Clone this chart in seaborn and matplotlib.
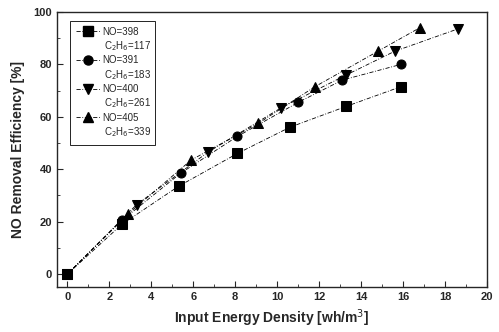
import pandas as pd
import numpy as np
import seaborn as sns
import matplotlib.pyplot as plt
from matplotlib.ticker import MultipleLocator
from matplotlib.lines import Line2D

# data
x_398 = [0, 2.6, 5.3, 8.1, 10.6, 13.3, 15.9]
y_398 = [0, 19, 33.5, 46, 56, 64, 71.5]
x_391 = [0, 2.6, 5.4, 8.1, 11.0, 13.1, 15.9]
y_391 = [0, 20.5, 38.5, 52.5, 65.5, 74, 80]
x_400 = [0, 3.3, 6.7, 10.2, 13.3, 15.6, 18.6]
y_400 = [0, 26.5, 46.5, 63.5, 76, 85, 93.5]
x_405 = [0, 2.9, 5.9, 9.1, 11.8, 14.8, 16.8]
y_405 = [0, 23, 43.5, 57.5, 71.5, 85, 94]

no_labels = ['NO=398', 'NO=391', 'NO=400', 'NO=405']
c2h6_labels = ['C$_2$H$_6$=117', 'C$_2$H$_6$=183', 'C$_2$H$_6$=261', 'C$_2$H$_6$=339']
markers = ['s', 'o', 'v', '^']

sns.set_style('ticks')
plt.rcParams['font.family'] = ['Liberation Sans', 'DejaVu Sans']

fig = plt.figure(figsize=(4.99, 3.32), dpi=100)
ax = fig.add_axes([0.114, 0.135, 0.862, 0.829])

series = [(x_398, y_398), (x_391, y_391), (x_400, y_400), (x_405, y_405)]
dash = (0, (5, 2, 1, 2))
for (xs, ys), m in zip(series, markers):
    sns.lineplot(x=xs, y=ys, ax=ax, marker=m, markersize=6.5,
                 color='black', markeredgecolor='black', linewidth=0.6,
                 linestyle=dash, sort=False)

# legend: marker line on the NO row, plain text row below for C2H6
handles, texts = [], []
blank = Line2D([], [], linestyle='none', marker=None)
for m, a, b in zip(markers, no_labels, c2h6_labels):
    handles.append(Line2D([], [], color='black', marker=m, markersize=6.5,
                          linewidth=0.6, linestyle=dash))
    texts.append(a)
    handles.append(blank)
    texts.append(b)

ax.set_xlim(-0.5, 20)
ax.set_ylim(-5, 100)
ax.xaxis.set_major_locator(MultipleLocator(2))
ax.xaxis.set_minor_locator(MultipleLocator(1))
ax.yaxis.set_major_locator(MultipleLocator(20))
ax.yaxis.set_minor_locator(MultipleLocator(10))
ax.tick_params(which='both', direction='in', labelsize=8)
ax.tick_params(which='major', length=4)
ax.tick_params(which='minor', length=2)
for lbl in ax.get_xticklabels() + ax.get_yticklabels():
    lbl.set_fontweight('bold')
for s in ax.spines.values():
    s.set_linewidth(1.0)

ax.set_xlabel('Input Energy Density [wh/m$^3$]', fontsize=10, fontweight='bold', labelpad=4)
ax.set_ylabel('NO Removal Efficiency [%]', fontsize=10, fontweight='bold', labelpad=6)

leg = ax.legend(handles, texts, loc='upper left', bbox_to_anchor=(0.02, 0.985),
                fontsize=7, frameon=True, fancybox=False, edgecolor='black',
                framealpha=1, handlelength=2.4, handletextpad=0.3,
                labelspacing=0.25, borderpad=0.6)
leg.get_frame().set_linewidth(0.6)
for i, t in enumerate(leg.get_texts()):
    if i % 2 == 1:
        t.set_x(2)

fig.savefig('out.png', dpi=100)
